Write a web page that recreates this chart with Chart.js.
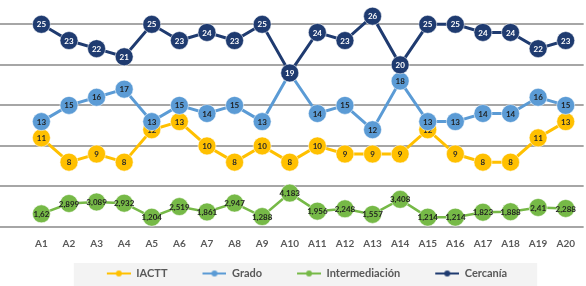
<!DOCTYPE html>
<html>
<head>
<meta charset="utf-8">
<script src="https://cdn.jsdelivr.net/npm/chart.js@4.4.0/dist/chart.umd.min.js"></script>
<style>
    html, body { margin: 0; padding: 0; background: #fff; }
    #wrap { width: 586px; height: 286px; position: relative; }
</style>
</head>
<body>
<div id="wrap"><canvas id="chart"></canvas></div>
<script>
    "use strict";

    // categories
    const labels = ["A1", "A2", "A3", "A4", "A5", "A6", "A7", "A8", "A9", "A10",
        "A11", "A12", "A13", "A14", "A15", "A16", "A17", "A18", "A19", "A20"];

    // series values
    const iactt = [11, 8, 9, 8, 12, 13, 10, 8, 10, 8, 10, 9, 9, 9, 12, 9, 8, 8, 11, 13];
    const grado = [13, 15, 16, 17, 13, 15, 14, 15, 13, 19, 14, 15, 12, 18, 13, 13, 14, 14, 16, 15];
    const intermediacion = [1.62, 2.899, 3.089, 2.932, 1.204, 2.519, 1.861, 2.947, 1.288, 4.183,
        1.956, 2.248, 1.557, 3.408, 1.214, 1.214, 1.823, 1.888, 2.41, 2.288];
    const cercania = [25, 23, 22, 21, 25, 23, 24, 23, 25, 19, 24, 23, 26, 20, 25, 25, 24, 24, 22, 23];

    // y gridlines every 5 from 0 to 25
    const yTicks = [0, 5, 10, 15, 20, 25];

    const FONT = "Lato, 'Open Sans', sans-serif";
    const GAP = 28; // blank space in front of each legend marker

    // legend marker: line with a dot
    function legendMark(color) {
        const cv = document.createElement("canvas");
        cv.width = GAP + 24; cv.height = 8;
        const c = cv.getContext("2d");
        c.strokeStyle = color;
        c.lineWidth = 2;
        c.beginPath(); c.moveTo(GAP, 4); c.lineTo(GAP + 24, 4); c.stroke();
        c.fillStyle = color;
        c.beginPath(); c.arc(GAP + 12, 4, 3, 0, Math.PI * 2); c.fill();
        return cv;
    }

    function series(label, values, color, textColor, order, width, fmt) {
        return {
            label: label,
            data: values.map((v, i) => ({ x: i + 1, y: v })),
            borderColor: color,
            backgroundColor: color,
            borderWidth: width,
            pointRadius: 9,
            pointBackgroundColor: color,
            pointBorderColor: "rgba(255,255,255,0.55)",
            pointBorderWidth: 1,
            tension: 0,
            order: order,
            textColor: textColor,
            texts: values.map(fmt)
        };
    }

    const plain = v => String(v);
    const comma = v => String(v).replace(".", ",");

    // Data labels drawn right after each dataset so the layering stays right
    const valueLabels = {
        id: "valueLabels",
        afterDatasetDraw(chart, args) {
            const ds = chart.data.datasets[args.index];
            const c = chart.ctx;
            c.save();
            c.font = "bold 8px " + FONT;
            c.textAlign = "center";
            c.textBaseline = "middle";
            c.fillStyle = ds.textColor;
            args.meta.data.forEach((pt, i) => {
                c.fillText(ds.texts[i], pt.x, pt.y + 0.5);
            });
            c.restore();
        }
    };

    // light grey panel behind the legend
    const legendPanel = {
        id: "legendPanel",
        beforeDraw(chart) {
            const hb = chart.legend && chart.legend.legendHitBoxes;
            if (!hb || !hb.length) return;
            const first = hb[0], last = hb[hb.length - 1];
            const left = first.left + GAP - 33;
            const c = chart.ctx;
            c.save();
            c.fillStyle = "#f3f3f3";
            c.fillRect(left, first.top - 5, last.left + last.width + 30 - left, chart.height - first.top + 5);
            c.restore();
        }
    };

    const ctx = document.getElementById("chart").getContext("2d");
    const myChart = new Chart(ctx, {
        type: "line",
        data: {
            datasets: [
                series("IACTT", iactt, "#FFC000", "#2a2a2a", 3, 3, plain),
                series("Grado", grado, "#5B9BD5", "#1f1f1f", 2, 3, plain),
                series("Intermediación", intermediacion, "#76B947", "#1f1f1f", 1, 2.5, comma),
                series("Cercanía", cercania, "#1F3B70", "#ffffff", 0, 3, plain)
            ]
        },
        options: {
            responsive: true,
            maintainAspectRatio: false,
            animation: false,
            events: [],
            layout: { padding: { top: 0, left: 0, right: 0, bottom: -3 }, autoPadding: false },
            scales: {
                x: {
                    type: "linear",
                    min: -0.5,
                    max: 20.65,
                    grid: { display: false, drawTicks: false },
                    border: { display: false },
                    afterBuildTicks: scale => {
                        scale.ticks = labels.map((l, i) => ({ value: i + 1 }));
                    },
                    ticks: {
                        autoSkip: false,
                        maxRotation: 0,
                        padding: 11,
                        color: "#595959",
                        font: { family: FONT, size: 10, weight: "bold" },
                        callback: v => labels[v - 1] || ""
                    }
                },
                y: {
                    min: 0,
                    max: 28,
                    afterBuildTicks: scale => {
                        scale.ticks = yTicks.map(v => ({ value: v }));
                    },
                    grid: { color: "#a6a6a6", lineWidth: 2, drawTicks: false },
                    border: { display: false },
                    ticks: { display: false }
                }
            },
            plugins: {
                tooltip: { enabled: false },
                legend: {
                    position: "bottom",
                    labels: {
                        usePointStyle: true,
                        pointStyleWidth: GAP + 24,
                        padding: 7,
                        color: "#595959",
                        font: { family: FONT, size: 11, weight: "bold" },
                        generateLabels: chart => chart.data.datasets.map((ds, i) => ({
                            text: ds.label,
                            pointStyle: legendMark(ds.borderColor),
                            fillStyle: ds.borderColor,
                            strokeStyle: "transparent",
                            lineWidth: 0,
                            fontColor: "#595959",
                            hidden: false,
                            datasetIndex: i
                        }))
                    }
                }
            }
        },
        plugins: [legendPanel, valueLabels]
    });
</script>
</body>
</html>
